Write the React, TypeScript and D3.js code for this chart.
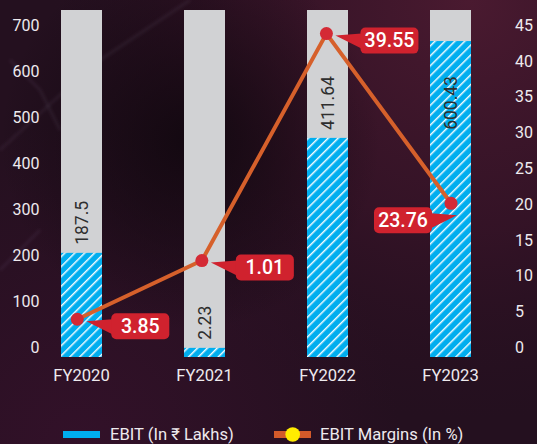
import React from "react";
import * as d3 from "d3";

const categories = ["FY2020", "FY2021", "FY2022", "FY2023"];
const ebitValues = [187.5, 2.23, 411.64, 600.43];
const ebitLabels = ["187.5", "2.23", "411.64", "600.43"];
const marginLabels = ["3.85", "1.01", "39.55", "23.76"];
// margin points as they sit on the right axis in the picture
const marginPlotted = [3.9, 12.1, 43.8, 20.1];
const leftTicks = [0, 100, 200, 300, 400, 500, 600, 700];
const rightTicks = [0, 5, 10, 15, 20, 25, 30, 35, 40, 45];
const legendLabels = ["EBIT (In \u20B9 Lakhs)", "EBIT Margins (In %)"];

const W = 537;
const H = 444;
const FONT = "Roboto, 'Noto Sans', 'DejaVu Sans', sans-serif";

export default function App() {
  const xBar = d3.scalePoint<string>().domain(categories).range([81.5, 450.5]);
  const xLine = d3.scalePoint<string>().domain(categories).range([77.3, 451]);
  const barW = 41;
  const barTop = 10;
  const barBottom = 357;
  const yBar = d3.scaleLinear().domain([0, 661]).range([349, barTop]);
  const yLeft = d3.scaleLinear().domain([0, 700]).range([347, 25]);
  const yRight = d3.scaleLinear().domain([0, 45]).range([347.2, 25]);

  const linePts: [number, number][] = categories.map((c, i) => [
    xLine(c) as number,
    yRight(marginPlotted[i]),
  ]);
  const lineGen = d3.line();

  const boxW = 58;
  const boxH = 26;

  return (
    <svg
      width={W}
      height={H}
      style={{ position: "absolute", left: 0, top: 0, display: "block" }}
      fontFamily={FONT}
    >
      <defs>
        <radialGradient id="glowTR" cx={470} cy={0} r={420} gradientUnits="userSpaceOnUse">
          <stop offset="0" stopColor="#4a1a30" stopOpacity={1} />
          <stop offset="0.55" stopColor="#3a1429" stopOpacity={0.7} />
          <stop offset="1" stopColor="#2a0f22" stopOpacity={0} />
        </radialGradient>
        <radialGradient id="glowBL" cx={80} cy={444} r={320} gradientUnits="userSpaceOnUse">
          <stop offset="0" stopColor="#34112a" stopOpacity={0.9} />
          <stop offset="1" stopColor="#34112a" stopOpacity={0} />
        </radialGradient>
        <radialGradient id="darkSpot" cx={190} cy={140} r={190} gradientUnits="userSpaceOnUse">
          <stop offset="0" stopColor="#120810" stopOpacity={0.95} />
          <stop offset="1" stopColor="#120810" stopOpacity={0} />
        </radialGradient>
        <filter id="blur" x="-20%" y="-20%" width="140%" height="140%">
          <feGaussianBlur stdDeviation={1.5} />
        </filter>
        <pattern
          id="hatch"
          width={7}
          height={7}
          patternUnits="userSpaceOnUse"
          patternTransform="rotate(45)"
        >
          <rect width={7} height={7} fill="#00aeef" />
          <line x1={0.75} y1={0} x2={0.75} y2={7} stroke="#ffffff" strokeWidth={1.4} />
        </pattern>
      </defs>

      <rect width={W} height={H} fill="#24101f" />
      <rect width={W} height={H} fill="url(#glowTR)" />
      <rect width={W} height={H} fill="url(#glowBL)" />
      <rect width={W} height={H} fill="url(#darkSpot)" />
      <g stroke="#6a5a70" strokeOpacity={0.16} strokeWidth={3} fill="none" filter="url(#blur)">
        <path d="M0,150 L60,95 L100,60 L190,0" />
        <path d="M10,60 L40,90 L60,130" />
        <path d="M0,270 L40,230" />
      </g>

      {/* bars */}
      {categories.map((c, i) => {
        const cx = xBar(c) as number;
        const top = yBar(ebitValues[i]);
        return (
          <g key={c}>
            <rect x={cx - barW / 2} y={barTop} width={barW} height={barBottom - barTop} fill="#d1d2d4" />
            <rect x={cx - barW / 2} y={top} width={barW} height={barBottom - top} fill="url(#hatch)" />
          </g>
        );
      })}

      {/* bar value labels */}
      {categories.map((c, i) => {
        const cx = (xBar(c) as number) + 6;
        const top = yBar(ebitValues[i]);
        const approxLen = ebitLabels[i].length * 9.5;
        const fits = top - 8 - approxLen > barTop + 4;
        const y = fits ? top - 8 : top + 35;
        return (
          <text
            key={c}
            transform={`translate(${cx},${y}) rotate(-90)`}
            textAnchor={fits ? "start" : "end"}
            fontSize={17.5}
            fill="#2e2e2e"
          >
            {ebitLabels[i]}
          </text>
        );
      })}

      {/* line */}
      <path d={lineGen(linePts) || ""} fill="none" stroke="#d6602b" strokeWidth={4} strokeLinejoin="round" />
      {linePts.map((p, i) => (
        <circle key={i} cx={p[0]} cy={p[1]} r={6.5} fill="#d42a35" />
      ))}

      {/* callouts */}
      {linePts.map((p, i) => {
        const right = i !== linePts.length - 1;
        const bx = right ? p[0] + 34 : p[0] - 19 - boxW;
        const by = right ? p[1] - 6 : p[1] + 4;
        const edge = right ? bx + 1 : bx + boxW - 1;
        const tipX = right ? bx - 25 : bx + boxW + 25;
        const tipY = by + 8;
        return (
          <g key={i}>
            <path
              d={`M${tipX},${tipY} L${edge},${by + 6} L${edge},${by + 21} Z`}
              fill="#d0222e"
            />
            <rect x={bx} y={by} width={boxW} height={boxH} rx={5} fill="#d0222e" />
            <text
              x={bx + boxW / 2}
              y={by + boxH / 2 + 6.8}
              textAnchor="middle"
              fontSize={19.5}
              fontWeight={500}
              fill="#ffffff"
            >
              {marginLabels[i]}
            </text>
          </g>
        );
      })}

      {/* left axis */}
      {leftTicks.map((t) => (
        <text key={t} x={39.5} y={yLeft(t) + 5.7} textAnchor="end" fontSize={16} fill="#eeeaee">
          {t}
        </text>
      ))}
      {/* right axis */}
      {rightTicks.map((t) => (
        <text key={t} x={515} y={yRight(t) + 5.7} textAnchor="start" fontSize={16} fill="#eeeaee">
          {t}
        </text>
      ))}
      {/* categories */}
      {categories.map((c) => (
        <text key={c} x={xBar(c) as number} y={380.7} textAnchor="middle" fontSize={16.6} fill="#eeeaee">
          {c}
        </text>
      ))}

      {/* legend */}
      <rect x={63} y={431} width={37} height={7} fill="#00aeef" />
      <text x={110} y={439.5} fontSize={16.6} fill="#eeeaee">
        {legendLabels[0]}
      </text>
      <rect x={274} y={431} width={37} height={7} fill="#d35a2a" />
      <circle cx={292.7} cy={434.5} r={7.3} fill="#ffec00" />
      <text x={320} y={439.5} fontSize={16.6} fill="#eeeaee">
        {legendLabels[1]}
      </text>
    </svg>
  );
}
